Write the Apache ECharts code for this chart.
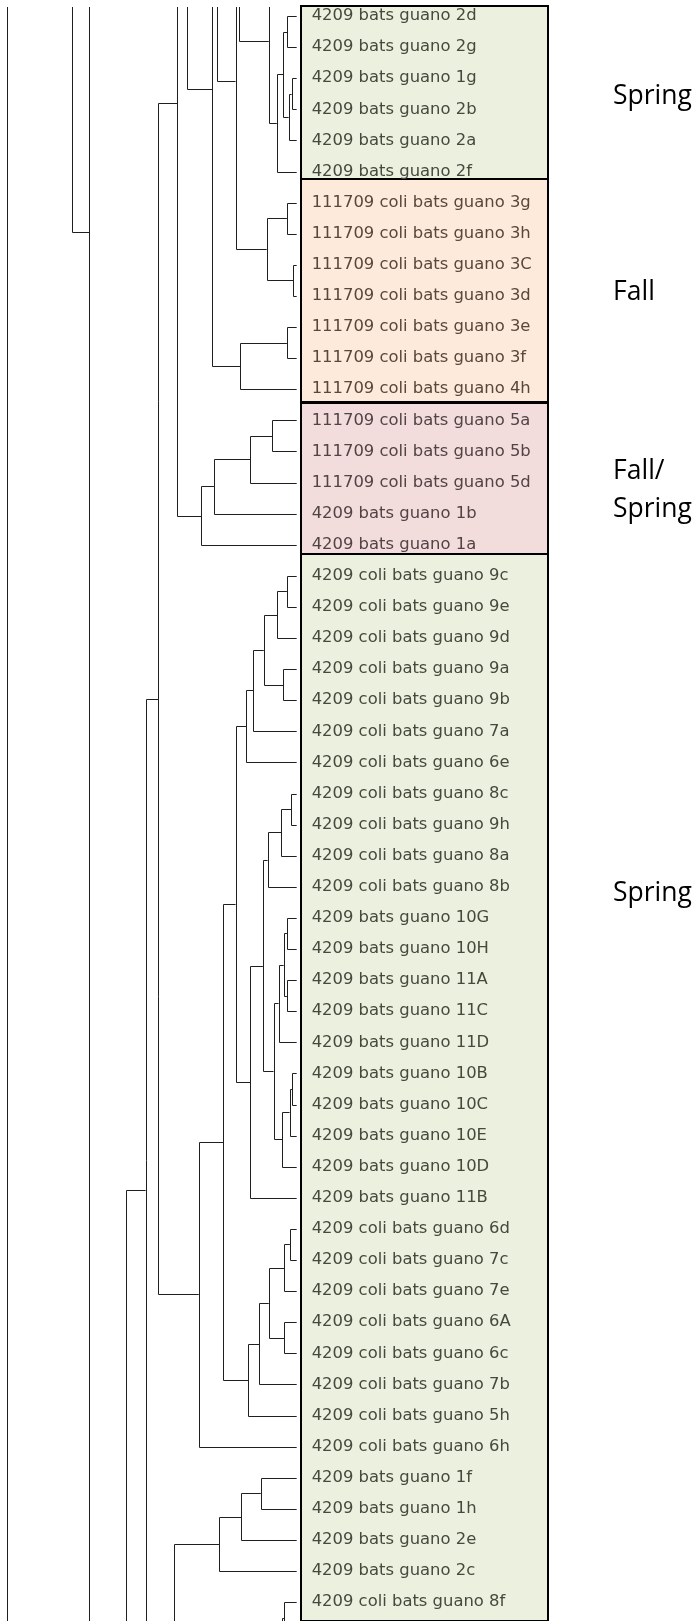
<!DOCTYPE html>
<html>
<head>
<meta charset="utf-8">
<script src="https://cdn.jsdelivr.net/npm/echarts@6/dist/echarts.min.js"></script>
<style>
html,body{margin:0;padding:0;background:#ffffff;}
#chart{width:697px;height:1621px;}
</style>
</head>
<body>
<div id="chart"></div>
<script>
// ---------------- DATA ----------------
// leaf labels, top to bottom (row index = position in list)
const leafLabels = [
  '4209 bats guano 2d', '4209 bats guano 2g', '4209 bats guano 1g', '4209 bats guano 2b',
  '4209 bats guano 2a', '4209 bats guano 2f',
  '111709 coli bats guano 3g', '111709 coli bats guano 3h', '111709 coli bats guano 3C',
  '111709 coli bats guano 3d', '111709 coli bats guano 3e', '111709 coli bats guano 3f',
  '111709 coli bats guano 4h',
  '111709 coli bats guano 5a', '111709 coli bats guano 5b', '111709 coli bats guano 5d',
  '4209 bats guano 1b', '4209 bats guano 1a',
  '4209 coli bats guano 9c', '4209 coli bats guano 9e', '4209 coli bats guano 9d',
  '4209 coli bats guano 9a', '4209 coli bats guano 9b', '4209 coli bats guano 7a',
  '4209 coli bats guano 6e', '4209 coli bats guano 8c', '4209 coli bats guano 9h',
  '4209 coli bats guano 8a', '4209 coli bats guano 8b', '4209 bats guano 10G',
  '4209 bats guano 10H', '4209 bats guano 11A', '4209 bats guano 11C', '4209 bats guano 11D',
  '4209 bats guano 10B', '4209 bats guano 10C', '4209 bats guano 10E', '4209 bats guano 10D',
  '4209 bats guano 11B', '4209 coli bats guano 6d', '4209 coli bats guano 7c',
  '4209 coli bats guano 7e', '4209 coli bats guano 6A', '4209 coli bats guano 6c',
  '4209 coli bats guano 7b', '4209 coli bats guano 5h', '4209 coli bats guano 6h',
  '4209 bats guano 1f', '4209 bats guano 1h', '4209 bats guano 2e', '4209 bats guano 2c',
  '4209 coli bats guano 8f'
];

// season groups: names and first/last leaf row
const seasonNames = ['Spring', 'Fall', 'Fall/\nSpring', 'Spring'];
const seasonLeafRanges = [[0, 5], [6, 12], [13, 17], [18, 51]];

// parts of the tree lying outside the cropped view (row position, estimated)
const hiddenNodes = {
  gA: -1.83, gB: -7.38, gC: -15.18, gD: -23.24, gE: 53.55, gF: 73.44, gG: 57.36,
  gH: 54.15, gI: -13.38, gJ: -43.45, gK: 57.36, gL: -48.7, gM: 57.36, r52: 52
};

// merges: [child A, child B, linkage distance]; numbers = leaf rows, 'mN' = earlier merge
const merges = [
  [0, 1, 3.2], [2, 3, 1.7], ['m1', 4, 2.7], ['m0', 'm2', 4.5], ['m3', 5, 6.7],
  ['gA', 'm4', 9.4], ['gB', 'm5', 19.3],
  [6, 7, 3.3], [8, 9, 1.2], ['m7', 'm8', 10.1], ['m6', 'm9', 20.6], ['gC', 'm10', 26.9],
  [10, 11, 3.3], ['m12', 12, 19.0], ['m11', 'm13', 28.4], ['gD', 'm14', 37.1],
  [13, 14, 8.2], ['m16', 15, 15.6], ['m17', 16, 27.9], ['m18', 17, 32.2], ['m15', 'm19', 40.3],
  [18, 19, 3.3], ['m21', 20, 6.5], [21, 22, 4.5], ['m22', 'm23', 11.1], ['m24', 23, 14.6],
  ['m25', 24, 17.1],
  [25, 26, 1.8], ['m27', 27, 5.2], ['m28', 28, 9.8],
  [29, 30, 3.3], [31, 32, 3.3], ['m30', 'm31', 4.4], ['m32', 33, 6.1],
  [34, 35, 1.5], ['m34', 36, 2.4], ['m35', 37, 4.9], ['m33', 'm36', 7.8],
  ['m29', 'm37', 11.4], ['m38', 38, 15.6], ['m26', 'm39', 20.6],
  [39, 40, 2.3], ['m41', 41, 4.2], [42, 43, 4.2], ['m42', 'm43', 9.4], ['m44', 44, 12.7],
  ['m45', 45, 16.3], ['m40', 'm46', 24.7], ['m47', 46, 33.0], ['m20', 'm48', 46.6],
  ['m49', 'gE', 50.9], ['m50', 'gF', 57.4],
  [47, 48, 12.1], ['m52', 49, 18.7], ['m53', 50, 26.2], ['m54', 'gG', 41.3],
  [51, 'r52', 4.3], ['m56', 'gH', 5.1],
  ['gJ', 'gK', 69.9], ['gI', 'm58', 75.8], ['gL', 'gM', 97.7]
];

// ---------------- LAYOUT / STYLE ----------------
const ROW_TOP = -0.2894, ROW_BOTTOM = 51.6077;     // visible row range of the tree grid
const ROW_TOP_FULL = -0.5145;                       // row at the page top
const BOX_EDGES = [-0.331, 5.25, 12.43, 17.30, 51.62];
const BOX_RIGHT = 0.6225, LABEL_X = 0.027, SEASON_X = 0.788;
const SEASON_ROWS = [2.58, 8.89, 15.24, 28.2];
const boxFills = ['#ebf1de', '#fdeadb', '#f2dddc', '#ebf1de'];
const textColors = ['#46493d', '#58473b', '#524344', '#46493d'];

// ---------------- BUILD ----------------
const nodePos = {};   // id -> {y, h}
function getNode(id) {
  if (typeof id === 'number') return { y: id, h: 0 };
  if (id in hiddenNodes) return { y: hiddenNodes[id], h: 0 };
  return nodePos[id];
}
const linkData = [];
merges.forEach((m, i) => {
  const a = getNode(m[0]), b = getNode(m[1]);
  nodePos['m' + i] = { y: (a.y + b.y) / 2, h: m[2] };
  linkData.push([a.h, a.y, m[2], b.y, b.h]);
});

const leafData = leafLabels.map((l, i) => {
  let g = 0;
  seasonLeafRanges.forEach((r, k) => { if (i >= r[0] && i <= r[1]) g = k; });
  return [i, g];
});
const boxData = seasonNames.map((n, k) => [BOX_EDGES[k], BOX_EDGES[k + 1], k]);
const seasonData = seasonNames.map((n, k) => [SEASON_ROWS[k], k]);

const snap = v => Math.round(v) + 0.5;

const chart = echarts.init(document.getElementById('chart'), null, { renderer: 'canvas' });
chart.setOption({
  animation: false,
  backgroundColor: '#ffffff',
  grid: [
    { left: 0, top: 7, width: 296.7, height: 1614, containLabel: false },
    { left: 301, top: 0, right: 0, height: 1621, containLabel: false }
  ],
  xAxis: [
    { gridIndex: 0, type: 'value', min: 0, max: 100, inverse: true, show: false },
    { gridIndex: 1, type: 'value', min: 0, max: 1, show: false }
  ],
  yAxis: [
    { gridIndex: 0, type: 'value', min: ROW_TOP, max: ROW_BOTTOM, inverse: true, show: false },
    { gridIndex: 1, type: 'value', min: ROW_TOP_FULL, max: ROW_BOTTOM, inverse: true, show: false }
  ],
  series: [
    {
      type: 'custom', xAxisIndex: 0, yAxisIndex: 0, clip: true, silent: true,
      data: linkData,
      encode: { x: [0, 2, 4], y: [1, 3] },
      renderItem: function (params, api) {
        const p1 = api.coord([api.value(0), api.value(1)]);
        const p2 = api.coord([api.value(2), api.value(1)]);
        const p3 = api.coord([api.value(2), api.value(3)]);
        const p4 = api.coord([api.value(4), api.value(3)]);
        return {
          type: 'polyline',
          shape: { points: [[p1[0], snap(p1[1])], [snap(p2[0]), snap(p2[1])], [snap(p3[0]), snap(p3[1])], [p4[0], snap(p4[1])]] },
          style: { stroke: '#1f1f1f', lineWidth: 1, fill: null }
        };
      }
    },
    {
      type: 'custom', xAxisIndex: 1, yAxisIndex: 1, silent: true, z: 2,
      data: boxData,
      encode: { y: [0, 1] },
      renderItem: function (params, api) {
        const a = api.coord([0, api.value(0)]);
        const b = api.coord([BOX_RIGHT, api.value(1)]);
        const g = api.value(2);
        return {
          type: 'rect',
          shape: { x: Math.round(a[0]), y: Math.round(a[1]), width: Math.round(b[0] - a[0]), height: Math.round(b[1] - a[1]) },
          style: { fill: boxFills[g], stroke: '#000000', lineWidth: 2 }
        };
      }
    },
    {
      type: 'custom', xAxisIndex: 1, yAxisIndex: 1, silent: true, z: 3,
      data: leafData,
      encode: { y: 0 },
      renderItem: function (params, api) {
        const p = api.coord([LABEL_X, api.value(0)]);
        const g = api.value(1);
        return {
          type: 'text',
          x: p[0], y: p[1],
          style: {
            text: leafLabels[params.dataIndex],
            font: '16.4px "DejaVu Sans"',
            fill: textColors[g],
            align: 'left', verticalAlign: 'middle'
          }
        };
      }
    },
    {
      type: 'custom', xAxisIndex: 1, yAxisIndex: 1, silent: true, z: 3,
      data: seasonData,
      encode: { y: 0 },
      renderItem: function (params, api) {
        const p = api.coord([SEASON_X, api.value(0)]);
        return {
          type: 'text',
          x: p[0], y: p[1],
          style: {
            text: seasonNames[params.dataIndex],
            font: '26.5px "Open Sans"',
            lineHeight: 38,
            fill: '#000000',
            align: 'left', verticalAlign: 'middle'
          }
        };
      }
    }
  ]
});
</script>
</body>
</html>
